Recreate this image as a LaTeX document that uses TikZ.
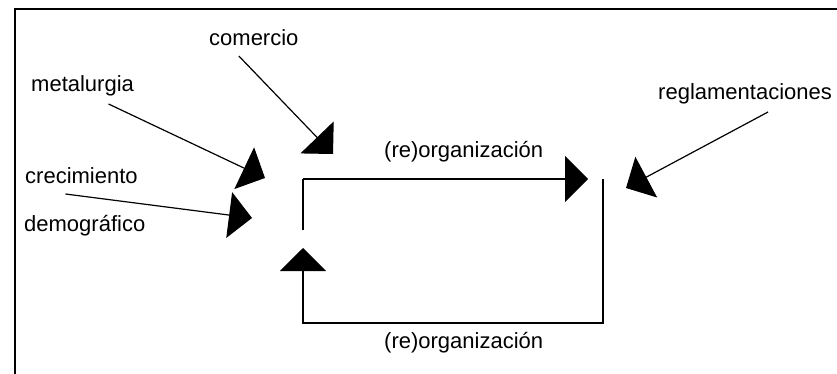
\documentclass[tikz,border=0pt]{standalone}
\usepackage{fontspec}
\setmainfont{Liberation Sans}
\usetikzlibrary{arrows.meta}

\tikzset{
	texto/.style={anchor=base west,inner sep=0pt,font=\fontsize{22}{26}\selectfont},
	linea/.style={line width=1.2pt},
	flecha/.style={linea,-{Triangle[length=23pt,width=46pt]}},
}

\begin{document}
\begin{tikzpicture}[x=1pt,y=-1pt]
				\useasboundingbox (0,0) rectangle (837,374);
				\draw[line width=1.6pt] (15,374)--(15,9)--(840,9);

				% causas
				\node[texto] (comercio) at (209,46) {comercio};
				\node[texto] (metalurgia) at (31,92) {metalurgia};
				\node[texto] (crecimiento) at (25,183) {crecimiento};
				\node[texto] (demografico) at (24,231) {demográfico};
				\node[texto] (reglas) at (658,100) {reglamentaciones};

				\coordinate (comercio-p) at (333,154);
				\coordinate (metalurgia-p) at (265,178);
				\coordinate (crecimiento-p) at (252,218);
				\coordinate (reglas-p) at (626,188);

				\draw[flecha] ([shift={(-15,10)}]comercio.base)--(comercio-p);
				\draw[flecha] ([shift={(26,12)}]metalurgia.base)--(metalurgia-p);
				\draw[flecha] ([shift={(-16,11)}]crecimiento.base)--(crecimiento-p);
				\draw[flecha] ([shift={(23,12)}]reglas.base)--(reglas-p);

				% ciclo
				\coordinate (izq-a) at (303,179);
				\coordinate (izq-b) at (303,230);
				\coordinate (izq-p) at (303,248);
				\coordinate (der-p) at (588,179);
				\coordinate (der-a) at (603,179);
				\coordinate (abajo) at (303,323);

				\draw[linea] (izq-a)--(izq-b);
				\draw[flecha] (izq-a)--(der-p);
				\draw[flecha] (der-a)|-(abajo)--(izq-p);

				\node[texto] (reorg-a) at (384,158) {(re)organización};
				\node[texto] (reorg-b) at (384,348) {(re)organización};
			\end{tikzpicture}
\end{document}
